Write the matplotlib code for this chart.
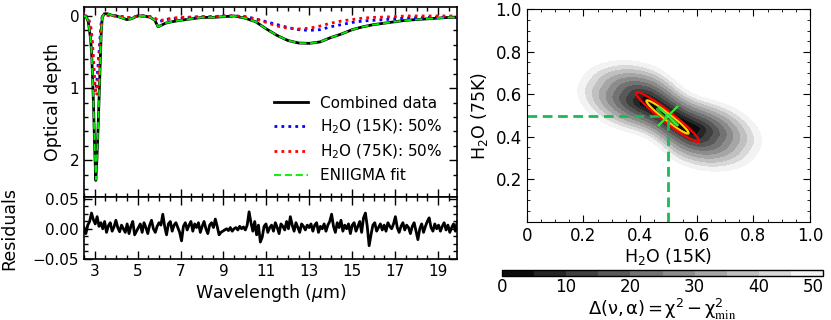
import numpy as np
import matplotlib
matplotlib.use("Agg")
import matplotlib.pyplot as plt
from matplotlib.ticker import MultipleLocator, FixedLocator, FuncFormatter

plt.rcParams['font.family'] = ['DejaVu Sans']
plt.rcParams['font.size'] = 11
plt.rcParams['mathtext.default'] = 'regular'

# ---------------- data: spectra ----------------
wavelength = [2.5, 2.6, 2.7, 2.8, 2.85, 2.9, 2.95, 3.0, 3.05, 3.1, 3.15, 3.2, 3.25, 3.3, 3.35,
              3.45, 3.6, 3.8, 4.0, 4.3, 4.5, 4.7, 5.0, 5.3, 5.6, 5.8, 5.95, 6.1, 6.3, 6.6,
              7.0, 7.5, 8.0, 8.5, 9.0, 9.5, 10.0, 10.5, 11.0, 11.5, 12.0, 12.5, 13.0, 13.5,
              14.0, 14.5, 15.0, 15.5, 16.0, 16.5, 17.0, 17.5, 18.0, 18.5, 19.0, 19.5, 19.9]
tau_data = [0.0, 0.01, 0.08, 0.3, 0.48, 0.85, 1.3, 1.86, 2.28, 2.0, 1.6, 1.17, 0.7, 0.25, 0.02,
            -0.03, -0.03, -0.01, 0.0, 0.03, 0.05, 0.04, 0.0, 0.0, 0.02, 0.06, 0.15, 0.13, 0.1, 0.08,
            0.06, 0.04, 0.02, 0.02, 0.01, 0.0, 0.03, 0.08, 0.18, 0.27, 0.34, 0.375, 0.38, 0.36,
            0.3, 0.25, 0.19, 0.15, 0.12, 0.1, 0.08, 0.06, 0.05, 0.04, 0.03, 0.02, 0.02]
tau_fit = [0.0, 0.01, 0.08, 0.3, 0.49, 0.86, 1.3, 1.85, 2.27, 2.0, 1.6, 1.17, 0.7, 0.25, 0.02,
           -0.03, -0.03, -0.01, 0.0, 0.03, 0.05, 0.04, 0.0, 0.0, 0.02, 0.06, 0.15, 0.13, 0.1, 0.08,
           0.06, 0.04, 0.02, 0.02, 0.01, 0.0, 0.03, 0.08, 0.18, 0.27, 0.34, 0.375, 0.38, 0.36,
           0.3, 0.25, 0.19, 0.15, 0.12, 0.1, 0.08, 0.06, 0.05, 0.04, 0.03, 0.02, 0.02]
tau_h2o_15K = [0.0, 0.0, 0.04, 0.15, 0.25, 0.45, 0.75, 1.0, 1.05, 0.9, 0.7, 0.5, 0.3, 0.1, 0.01,
               -0.01, -0.01, 0.0, 0.0, 0.01, 0.02, 0.02, 0.0, 0.0, 0.01, 0.03, 0.08, 0.07, 0.05, 0.04,
               0.03, 0.02, 0.01, 0.01, 0.0, 0.0, 0.01, 0.04, 0.08, 0.12, 0.16, 0.19, 0.2, 0.19,
               0.15, 0.12, 0.09, 0.07, 0.06, 0.05, 0.04, 0.03, 0.025, 0.02, 0.02, 0.015, 0.01]
tau_h2o_75K = [0.0, 0.0, 0.03, 0.12, 0.22, 0.4, 0.62, 0.9, 1.1, 1.08, 0.9, 0.65, 0.4, 0.15, 0.02,
               -0.01, -0.01, 0.0, 0.0, 0.01, 0.02, 0.02, 0.0, 0.0, 0.01, 0.03, 0.06, 0.06, 0.05, 0.03,
               0.02, 0.015, 0.01, 0.01, 0.0, 0.0, 0.01, 0.04, 0.09, 0.14, 0.17, 0.18, 0.17, 0.14,
               0.1, 0.07, 0.05, 0.03, 0.02, 0.015, 0.01, 0.0, 0.0, 0.0, 0.0, 0.0, 0.0]

residuals = [
    0.002, -0.008, 0.006, 0.012, 0.026, 0.015, 0.008, 0.020, 0.004, 0.010,
    0.000, 0.012, -0.006, 0.005, 0.010, -0.004, 0.003, 0.014, 0.002, -0.005,
    0.006, 0.000, -0.006, 0.008, -0.008, 0.004, 0.012, -0.010, -0.004, 0.002,
    0.008, -0.006, 0.010, 0.002, -0.008, 0.006, 0.014, 0.000, -0.006, 0.004,
    0.010, 0.006, 0.024, 0.004, -0.010, 0.008, 0.012, -0.004, 0.006, 0.010,
    0.002, -0.006, -0.020, 0.004, 0.010, -0.002, 0.006, 0.012, -0.004, 0.008,
    0.002, 0.010, -0.006, 0.004, 0.012, 0.000, -0.008, 0.006, 0.010, 0.002,
    0.016, 0.004, -0.010, -0.006, -0.004, -0.002, 0.000, -0.003, 0.002, -0.004,
    0.000, 0.002, -0.002, 0.004, 0.000, 0.003, -0.002, 0.006, 0.028, 0.010,
    -0.004, 0.012, -0.010, 0.006, -0.022, -0.014, 0.004, 0.008, -0.006, 0.002,
    0.006, -0.004, 0.010, 0.002, -0.008, 0.008, 0.004, -0.002, 0.012, 0.000,
    0.020, 0.006, -0.004, 0.010, 0.002, -0.006, 0.008, 0.004, -0.002, 0.006,
    0.002, 0.008, -0.004, 0.006, 0.010, -0.006, 0.004, 0.000, 0.008, -0.004,
    0.006, 0.012, 0.024, 0.004, -0.006, 0.010, 0.002, 0.014, -0.004, 0.006,
    0.000, 0.008, -0.008, 0.006, 0.010, -0.004, 0.004, 0.012, -0.006, 0.018,
    0.026, 0.004, -0.028, -0.010, 0.006, 0.010, -0.004, 0.002, 0.008, -0.002,
    0.006, -0.004, 0.010, 0.004, 0.000, 0.008, 0.020, 0.002, -0.006, 0.004,
    0.010, -0.002, 0.006, 0.002, -0.008, 0.004, 0.010, -0.004, -0.018, 0.000,
    0.008, -0.006, 0.004, 0.012, 0.018, 0.002, -0.004, 0.008, 0.000, 0.006,
    -0.004, 0.004, 0.010, -0.002, 0.006, -0.006, 0.002, 0.008, -0.004, 0.012]
residual_range = (2.5, 19.9)

# ---------------- data: chi-square map ----------------
best_15K = 0.5
best_75K = 0.5
delta_levels = [0, 5, 10, 15, 20, 25, 30, 35, 40, 45, 50]
colorbar_ticks = [0, 10, 20, 30, 40, 50]
sigma_levels = [1, 4, 9]
sigma_colors = ['#2ca02c', '#ffd000', '#ff0000']
# parameters of the Delta-chi2 surface (shape)
map_center = (0.5005, 0.50)
map_angle_deg = 34.0
map_half_len = (0.12, 0.13)
map_half_width = 0.012
map_scale = (0.315, 0.135)
map_bend = (0.22, 0.2)
map_lobe_widen = (0.35, 0.15)
core_center = (0.497, 0.493)
core_angle_deg = 38.0
core_axes = (0.0626, 0.0085)
aspect_k = 283.3 / 212.4

# ---------------- figure ----------------
W, H = 831, 320
fig = plt.figure(figsize=(W / 100, H / 100), dpi=100)

def frac(l, t, r, b):
    return [l / W, 1 - b / H, (r - l) / W, (b - t) / H]

ax1 = fig.add_axes(frac(84, 7.3, 457.3, 197))
ax2 = fig.add_axes(frac(84, 197, 457.3, 259.3), sharex=ax1)

ax1.plot(wavelength, tau_data, color='black', lw=2.0, label='Combined data', zorder=2)
ax1.plot(wavelength, tau_h2o_15K, color='blue', lw=2.0, ls=(0, (1, 1.5)),
         label='H$_2$O (15K): 50%', zorder=3)
ax1.plot(wavelength, tau_h2o_75K, color='red', lw=2.0, ls=(0, (1, 1.5)),
         label='H$_2$O (75K): 50%', zorder=3)
ax1.plot(wavelength, tau_fit, color='#00ee00', lw=1.3, ls=(0, (4, 2)),
         label='ENIIGMA fit', zorder=4)
ax1.set_ylim(2.51, -0.12)
ax1.set_xlim(2.5, 19.9)
ax1.set_ylabel('Optical depth', fontsize=12.5)
ax1.yaxis.set_label_coords(-0.06, 0.5)
ax1.yaxis.set_major_locator(FixedLocator([0, 1, 2]))
ax1.yaxis.set_major_formatter(FuncFormatter(lambda v, p: '%d' % v))
ax1.yaxis.set_minor_locator(MultipleLocator(0.2))
leg = ax1.legend(loc='lower right', frameon=False, fontsize=11, handlelength=2.2,
                 handletextpad=0.8, labelspacing=0.45, borderaxespad=0.5,
                 bbox_to_anchor=(0.997, 0.0))
plt.setp(ax1.get_xticklabels(), visible=False)

res_wl = np.linspace(residual_range[0], residual_range[1], len(residuals))
ax2.plot(res_wl, residuals, color='black', lw=2.0)
ax2.set_ylim(-0.0505, 0.0525)
ax2.yaxis.set_major_locator(FixedLocator([-0.05, 0.0, 0.05]))
ax2.yaxis.set_major_formatter(FuncFormatter(lambda v, p: ('%.2f' % v).replace('-', '\u2212')))
ax2.yaxis.set_minor_locator(MultipleLocator(0.0125))
ax2.xaxis.set_major_locator(FixedLocator([3, 5, 7, 9, 11, 13, 15, 17, 19]))
ax2.xaxis.set_minor_locator(MultipleLocator(0.5))
ax2.set_xlabel('Wavelength ($\\mathit{\\mu}$m)', fontsize=12.5, labelpad=2)
ax2.set_ylabel('Residuals', fontsize=12.5)
ax2.yaxis.set_label_coords(-0.177, 0.5)

for ax in (ax1, ax2):
    ax.tick_params(which='both', direction='in', top=True, right=True, width=1.0)
    ax.tick_params(which='major', length=6)
    ax.tick_params(which='minor', length=3)
    for sp in ax.spines.values():
        sp.set_linewidth(1.2)

# ---------------- right: chi2 map ----------------
ax3 = fig.add_axes(frac(526.7, 9.3, 810, 221.7))
gx = np.linspace(0, 1, 700)
gy = np.linspace(0, 1, 700)
XX, YY = np.meshgrid(gx, gy)

th = np.deg2rad(map_angle_deg)
Xs = (XX - map_center[0]) * aspect_k
Ys = (YY - map_center[1])
s = Xs * np.cos(th) - Ys * np.sin(th)
t = Xs * np.sin(th) + Ys * np.cos(th)
t_bend = t - map_bend[0] * s ** 3 / (map_bend[1] ** 2 + s ** 2)
widen = 1 + map_lobe_widen[0] * s ** 2 / (s ** 2 + map_lobe_widen[1] ** 2)
ds = np.maximum(s - map_half_len[1], 0) + np.maximum(-s - map_half_len[0], 0)
dt = np.maximum(np.abs(t_bend) - map_half_width, 0) / widen
delta_map = 50 * np.sqrt((ds / map_scale[0]) ** 2 + (dt / map_scale[1]) ** 2)

cf = ax3.contourf(XX, YY, delta_map, levels=delta_levels, cmap='gray')

th2 = np.deg2rad(core_angle_deg)
Xc = (XX - core_center[0]) * aspect_k
Yc = (YY - core_center[1])
sc = Xc * np.cos(th2) - Yc * np.sin(th2)
tc = Xc * np.sin(th2) + Yc * np.cos(th2)
core_map = (sc / core_axes[0]) ** 2 + (tc / core_axes[1]) ** 2
ax3.contour(XX, YY, core_map, levels=sigma_levels, colors=sigma_colors, linewidths=1.6)

ax3.plot([0, best_15K], [best_75K, best_75K], color='#1db954', lw=2, ls=(0, (3.5, 2)))
ax3.plot([best_15K, best_15K], [0, best_75K], color='#1db954', lw=2, ls=(0, (3.5, 2)))
ax3.plot([best_15K], [best_75K], marker='x', ms=14, mew=1.5, color='#33ee33', ls='none')

ax3.set_xlim(0, 1)
ax3.set_ylim(0, 1)
ax3.xaxis.set_major_locator(FixedLocator([0, 0.2, 0.4, 0.6, 0.8, 1.0]))
ax3.xaxis.set_major_formatter(FuncFormatter(lambda v, p: '0' if v == 0 else '%.1f' % v))
ax3.yaxis.set_major_locator(FixedLocator([0.2, 0.4, 0.6, 0.8, 1.0]))
ax3.yaxis.set_major_formatter(FuncFormatter(lambda v, p: '%.1f' % v))
ax3.xaxis.set_minor_locator(MultipleLocator(0.05))
ax3.yaxis.set_minor_locator(MultipleLocator(0.05))
ax3.tick_params(which='both', direction='in', top=True, right=True, labelsize=12)
ax3.tick_params(which='major', length=5)
ax3.tick_params(which='minor', length=2.5)
ax3.set_xlabel('H$_2$O (15K)', fontsize=12.5, labelpad=1)
ax3.set_ylabel('H$_2$O (75K)', fontsize=12.5, labelpad=4)

cax = fig.add_axes(frac(501.7, 270, 823.3, 275.7))
cb = fig.colorbar(cf, cax=cax, orientation='horizontal', ticks=colorbar_ticks)
cb.ax.tick_params(labelsize=12, length=0, pad=2)
cb.outline.set_linewidth(1.0)
tls = cb.ax.get_xticklabels()
tls[-1].set_horizontalalignment('right')
lab = cb.ax.set_xlabel('$\\Delta(\\nu, \\alpha) = \\chi^2 - \\chi^2_{\\rm min}$', fontsize=13, labelpad=0)
lab.set_math_fontfamily('stix')

fig.savefig('out.png', dpi=100)
